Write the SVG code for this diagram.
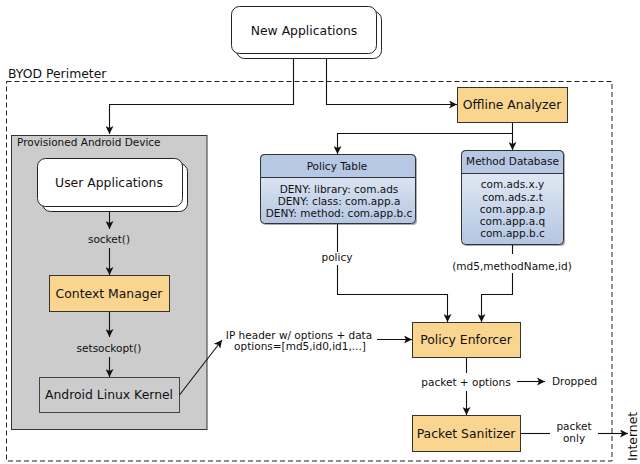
<svg xmlns="http://www.w3.org/2000/svg" width="640" height="464" viewBox="0 0 640 464">
<defs>
<marker id="arr" viewBox="0 0 10 10" refX="10" refY="5" markerWidth="8" markerHeight="8" markerUnits="userSpaceOnUse" orient="auto">
<path d="M0,0 L10,5 L0,10 L2.5,5 z" fill="#111"/>
</marker>
<linearGradient id="blueBody" x1="0" y1="0" x2="0" y2="1">
<stop offset="0" stop-color="#eef2f9"/>
<stop offset="1" stop-color="#b3c6e2"/>
</linearGradient>
<style>
text{font-family:"DejaVu Sans","Liberation Sans",sans-serif;fill:#111}
.big{font-size:12.4px}
.sm{font-size:10.5px}
.mid{text-anchor:middle}
.orange{fill:#f9d58f;stroke:#333;stroke-width:1}
.white{fill:#fff;stroke:#222;stroke-width:1}
.conn{fill:none;stroke:#111;stroke-width:1.1}
.head{fill:#b6c8e4;stroke:#333;stroke-width:1}
.shadow{fill:#777;opacity:0.6}
</style>
</defs>
<rect width="640" height="464" fill="#fff"/>

<g id="perimeter">
<rect x="6.5" y="81.5" width="605.5" height="379.5" fill="none" stroke="#222" stroke-width="1" stroke-dasharray="5,3"/>
<text x="8" y="78" class="big">BYOD Perimeter</text>
</g>

<g id="device">
<rect x="11.5" y="135.5" width="195.5" height="294" fill="#cccccc" stroke="#333" stroke-width="1"/>
<text x="17" y="146" class="sm">Provisioned Android Device</text>
</g>

<g id="new-apps">
<rect x="236.5" y="11.5" width="145" height="47" rx="8" class="white"/>
<rect x="231.5" y="6.5" width="145" height="47" rx="8" class="white"/>
<text x="304" y="34.5" class="big mid">New Applications</text>
</g>

<g id="user-apps">
<rect x="42.5" y="163.5" width="145" height="48" rx="8" class="white"/>
<rect x="37.5" y="158.5" width="145" height="48" rx="8" class="white"/>
<text x="109" y="186.5" class="big mid">User Applications</text>
</g>

<g id="context-manager">
<rect x="49.5" y="275.5" width="120" height="36" class="orange"/>
<text x="109" y="297.5" class="big mid">Context Manager</text>
</g>

<g id="kernel">
<rect x="39.5" y="377.5" width="140" height="35" fill="#cccccc" stroke="#444" stroke-width="1"/>
<text x="109" y="398.5" class="big mid">Android Linux Kernel</text>
</g>

<g id="offline-analyzer">
<rect x="457.5" y="87.5" width="110" height="35" class="orange"/>
<text x="512" y="108.5" class="big mid">Offline Analyzer</text>
</g>

<g id="policy-table">
<rect x="262" y="156" width="155" height="69" rx="4" class="shadow"/>
<rect x="260.5" y="154.5" width="155" height="69" rx="4" fill="url(#blueBody)" stroke="#333" stroke-width="1"/>
<path d="M260.5,177.5 V158.5 a4,4 0 0 1 4,-4 H411.5 a4,4 0 0 1 4,4 V177.5 z" class="head"/>
<text x="337" y="170" class="sm mid">Policy Table</text>
<text x="339" y="193" class="sm mid">DENY: library: com.ads</text>
<text x="339" y="205" class="sm mid">DENY: class: com.app.a</text>
<text x="339" y="217" class="sm mid">DENY: method: com.app.b.c</text>
</g>

<g id="method-database">
<rect x="463" y="152" width="102" height="94" rx="4" class="shadow"/>
<rect x="461.5" y="150.5" width="102" height="94" rx="4" fill="url(#blueBody)" stroke="#333" stroke-width="1"/>
<path d="M461.5,173.5 V154.5 a4,4 0 0 1 4,-4 H559.5 a4,4 0 0 1 4,4 V173.5 z" class="head"/>
<text x="512.5" y="165" class="sm mid">Method Database</text>
<text x="512.5" y="188" class="sm mid">com.ads.x.y</text>
<text x="512.5" y="200.5" class="sm mid">com.ads.z.t</text>
<text x="512.5" y="213" class="sm mid">com.app.a.p</text>
<text x="512.5" y="225" class="sm mid">com.app.a.q</text>
<text x="512.5" y="237" class="sm mid">com.app.b.c</text>
</g>

<g id="policy-enforcer">
<rect x="412.5" y="322.5" width="108" height="35" class="orange"/>
<text x="466" y="343.5" class="big mid">Policy Enforcer</text>
</g>

<g id="packet-sanitizer">
<rect x="412.5" y="415.5" width="108" height="36" class="orange"/>
<text x="466" y="437.5" class="big mid">Packet Sanitizer</text>
</g>

<g id="dropped">
<text x="552" y="385" class="sm">Dropped</text>
</g>

<g id="internet">
<text transform="translate(637,461) rotate(-90)" class="big">Internet</text>
</g>

<g id="connectors">
<path class="conn" d="M293.5,58 V104.5 H109.5 V134" marker-end="url(#arr)"/>
<path class="conn" d="M326.5,58 V104.5 H457" marker-end="url(#arr)"/>
<path class="conn" d="M512.5,123 V150" marker-end="url(#arr)"/>
<path class="conn" d="M512.5,133.5 H337.5 V154" marker-end="url(#arr)"/>
<path class="conn" d="M109.5,212 V229" marker-end="url(#arr)"/>
<text x="109" y="243" class="sm mid">socket()</text>
<path class="conn" d="M109.5,248 V275" marker-end="url(#arr)"/>
<path class="conn" d="M109.5,312 V337" marker-end="url(#arr)"/>
<text x="109" y="352" class="sm mid">setsockopt()</text>
<path class="conn" d="M109.5,357 V377" marker-end="url(#arr)"/>
<path class="conn" d="M179.5,395 L222,340" marker-end="url(#arr)"/>
<text x="299" y="338.5" class="sm mid">IP header w/ options + data</text>
<text x="300" y="349.5" class="sm mid">options=[md5,id0,id1,...]</text>
<path class="conn" d="M377,339.5 H412" marker-end="url(#arr)"/>
<path class="conn" d="M337.5,224 V252"/>
<text x="337" y="261" class="sm mid">policy</text>
<path class="conn" d="M337.5,265 V294.5 H447.5 V322" marker-end="url(#arr)"/>
<path class="conn" d="M512.5,245 V254"/>
<text x="512" y="270" class="sm mid">(md5,methodName,id)</text>
<path class="conn" d="M512.5,273 V294.5 H481.5 V322" marker-end="url(#arr)"/>
<path class="conn" d="M466.5,358 V373"/>
<text x="466" y="385.5" class="sm mid">packet + options</text>
<path class="conn" d="M466.5,391 V415" marker-end="url(#arr)"/>
<path class="conn" d="M517,381.5 H545" marker-end="url(#arr)"/>
<path class="conn" d="M521,433.5 H550"/>
<text x="574" y="429.5" class="sm mid">packet</text>
<text x="574" y="441.5" class="sm mid">only</text>
<path class="conn" d="M598,433.5 H628" marker-end="url(#arr)"/>
</g>
</svg>
